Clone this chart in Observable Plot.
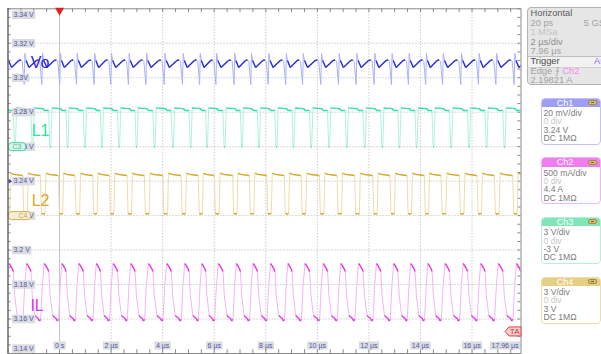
<!DOCTYPE html>
<html><head><meta charset="utf-8">
<script src="https://cdn.jsdelivr.net/npm/d3@7"></script>
<script src="https://cdn.jsdelivr.net/npm/@observablehq/plot@0.6"></script>
<style>
html,body{margin:0;padding:0;background:#fff;overflow:hidden;}
body{font-family:"Liberation Sans",Arial,sans-serif;}
#wrap{position:relative;width:601px;height:354px;overflow:hidden;}
#chart{position:absolute;left:0;top:0;}
.hbox{position:absolute;left:527px;top:6.5px;width:80px;height:78px;box-sizing:border-box;background:#e6e6e6;border:1px solid #b4b4b4;border-radius:4px;overflow:hidden;}
.hl{position:absolute;left:2.5px;font-size:9.3px;line-height:10px;white-space:nowrap;color:#a2a2a2;}
.hr{position:absolute;right:5px;font-size:9.3px;line-height:10px;white-space:nowrap;color:#a2a2a2;}
.ch{position:absolute;left:541px;width:60px;height:47px;box-sizing:border-box;background:#fff;border:1px solid;border-radius:4px;overflow:hidden;}
.chh{position:absolute;left:0;top:0;right:0;height:8.6px;color:#fff;font-size:9px;line-height:9px;text-align:center;padding-right:12px;}
.ico{position:absolute;right:3px;top:1.5px;width:9px;height:5px;background:#d8bd72;border:1px solid #a88c3c;border-radius:2px;box-sizing:border-box;}
.ico:after{content:"";position:absolute;left:2px;right:2px;top:1.2px;height:1px;background:#7a6428;}
.cl{position:absolute;left:1.5px;font-size:8.6px;line-height:8.4px;color:#7c7c7c;white-space:nowrap;}
</style></head>
<body><div id="wrap"><div id="chart"></div><div id="panel"></div></div>
<script>
// ---- axis definitions ----
const xDomain = [-2.0, 17.9];
const yDomain = [3.14, 3.34];
const xTickValues = [0, 2, 4, 6, 8, 10, 12, 14, 16];
const xTickLabels = ["0 s", "2 µs", "4 µs", "6 µs", "8 µs", "10 µs", "12 µs", "14 µs", "16 µs"];
const xEndLabel = "17.96 µs";
const yTickValues = [3.14, 3.16, 3.18, 3.2, 3.22, 3.24, 3.26, 3.28, 3.3, 3.32, 3.34];
const yTickLabels = ["3.14 V", "3.16 V", "3.18 V", "3.2 V", "3.22 V", "3.24 V", "3.26 V", "3.28 V", "3.3V", "3.32 V", "3.34 V"];

// ---- switching cycle start times (µs) ----
const cycleStarts = [-2.128, -1.449, -0.766, -0.068, 0.580, 1.266, 1.910, 2.597, 3.268, 3.982,
  4.692, 5.362, 5.983, 6.697, 7.341, 8.016, 8.698, 9.346, 10.056, 10.743,
  11.426, 12.127, 12.798, 13.458, 14.129, 14.777, 15.487, 16.173, 16.844, 17.558, 18.229];

// ---- one cycle of each trace: [phase within cycle, volts, slow(dark) segment follows] ----
const voShape = [
  [0.000, 3.3096, 0], [0.114, 3.2961, 0], [0.154, 3.3141, 0], [0.220, 3.3100, 1],
  [0.390, 3.3059, 1], [0.800, 3.3100, 1], [0.920, 3.3103, 0]
];
const l1Shape = [
  [0.000, 3.2822, 1], [0.200, 3.2820, 1], [0.240, 3.2810, 1], [0.490, 3.2810, 0],
  [0.560, 3.2598, 1], [0.610, 3.2598, 0], [0.680, 3.2827, 1], [0.720, 3.2824, 1]
];
const l2Shape = [
  [0.000, 3.2433, 1], [0.030, 3.2433, 0], [0.090, 3.2211, 1], [0.290, 3.2211, 0],
  [0.345, 3.2447, 1], [0.380, 3.2445, 1], [0.520, 3.2439, 1]
];
const ilShape = [
  [0.000, 3.1592, 1], [0.046, 3.1597, 0], [0.143, 3.1795, 0], [0.246, 3.1922, 1],
  [0.314, 3.1913, 1], [0.429, 3.1893, 1], [0.497, 3.1876, 0], [0.571, 3.1737, 0],
  [0.714, 3.1620, 1], [0.800, 3.1612, 1], [0.914, 3.1603, 1], [0.971, 3.1589, 1]
];

// ---- channel names / label positions ----
const channelNames = ["Vo", "L1", "L2", "IL"];
const channelLabelT = [-1.12, -1.08, -1.08, -1.13];
const channelLabelV = [3.3088, 3.2694, 3.2285, 3.1678];
const darkColors = ["#2a2ae4", "#2ee0a2", "#d8a82a", "#e236e2"];
const lightColors = ["#aab2f8", "#b2f2da", "#f0dcaa", "#f8b2f8"];

// ---- markers ----
const triggerTime = 0;
const triggerLevelV = 3.1528;
const ch3RefV = 3.26, ch4RefV = 3.22, ch1RefV = 3.24;

function build(shape) {
  const pts = [];
  for (let k = 0; k < cycleStarts.length - 1; k++) {
    const t0 = cycleStarts[k], t1 = cycleStarts[k + 1];
    for (const [p, v, d] of shape) pts.push({t: t0 + p * (t1 - t0), v, dark: d});
  }
  pts.push({t: cycleStarts[cycleStarts.length - 1], v: shape[0][1], dark: 0});
  return pts;
}
function segs(pts) {
  const out = [];
  for (let i = 0; i < pts.length - 1; i++) if (pts[i].dark) out.push({x1: pts[i].t, y1: pts[i].v, x2: pts[i + 1].t, y2: pts[i + 1].v});
  return out;
}
const traces = [voShape, l1Shape, l2Shape, ilShape].map(build);

const mctx = document.createElement("canvas").getContext("2d");
mctx.font = "7px 'Liberation Sans'";
const tw = s => mctx.measureText(s).width;

function rectSym(w, h, anchor, rx = 0) {
  return {draw(ctx) {
    const x0 = anchor === "start" ? 0 : anchor === "end" ? -w : -w / 2;
    if (!rx) { ctx.rect(x0, -h / 2, w, h); return; }
    const y0 = -h / 2, x1 = x0 + w, y1 = h / 2;
    ctx.moveTo(x0 + rx, y0); ctx.lineTo(x1 - rx, y0); ctx.quadraticCurveTo(x1, y0, x1, y0 + rx);
    ctx.lineTo(x1, y1 - rx); ctx.quadraticCurveTo(x1, y1, x1 - rx, y1); ctx.lineTo(x0 + rx, y1);
    ctx.quadraticCurveTo(x0, y1, x0, y1 - rx); ctx.lineTo(x0, y0 + rx); ctx.quadraticCurveTo(x0, y0, x0 + rx, y0); ctx.closePath();
  }};
}
const trigSym = {draw(ctx) { ctx.moveTo(-4.5, -1); ctx.lineTo(4.5, -1); ctx.lineTo(0, 7); ctx.closePath(); }};
const taSym = {draw(ctx) { ctx.moveTo(-16, 0); ctx.lineTo(-12, -4.5); ctx.lineTo(0, -4.5); ctx.lineTo(0, 4.5); ctx.lineTo(-12, 4.5); ctx.closePath(); }};
const refSym = {draw(ctx) { ctx.moveTo(0, -2.5); ctx.lineTo(3.5, 0); ctx.lineTo(0, 2.5); ctx.closePath(); }};

const labelBg = "#dcdce0", labelFg = "#4c5aa8";
const marks = [];
// grid
marks.push(Plot.ruleX(xTickValues.filter(d => d !== 0), {stroke: "#b4b4b4", strokeDasharray: "1,2", strokeWidth: 1}));
marks.push(Plot.ruleX([0], {stroke: "#c4c4c4", strokeWidth: 1}));
marks.push(Plot.ruleY(yTickValues.slice(1, -1), {stroke: "#b4b4b4", strokeDasharray: "1,2", strokeWidth: 1}));
// minor ticks along the borders
const minorX = d3.range(xDomain[0], xDomain[1], 0.5);
const minorY = d3.range(yDomain[0], yDomain[1] + 1e-9, 0.005);
marks.push(Plot.ruleX(minorX, {y1: yDomain[0], y2: yDomain[0] + 0.0022, stroke: "#888"}));
marks.push(Plot.ruleX(minorX, {y1: yDomain[1], y2: yDomain[1] - 0.0022, stroke: "#888"}));
marks.push(Plot.ruleY(minorY, {x1: xDomain[0], x2: xDomain[0] + 0.12, stroke: "#888"}));
marks.push(Plot.ruleY(minorY, {x1: xDomain[1], x2: xDomain[1] - 0.12, stroke: "#888"}));
// traces
traces.forEach((pts, i) => {
  marks.push(Plot.line(pts, {x: "t", y: "v", stroke: lightColors[i], strokeWidth: 1, clip: true}));
});
traces.forEach((pts, i) => {
  marks.push(Plot.link(segs(pts), {x1: "x1", y1: "y1", x2: "x2", y2: "y2", stroke: darkColors[i], strokeWidth: 1.4, clip: true}));
});
// channel labels
channelNames.forEach((n, i) => {
  marks.push(Plot.text([n], {x: () => channelLabelT[i], y: () => channelLabelV[i], text: d => d, fill: darkColors[i], fontSize: 16, textAnchor: "start", fontFamily: "Liberation Sans"}));
});
// y axis labels
yTickValues.forEach((v, i) => {
  const s = yTickLabels[i];
  const dy = i === yTickValues.length - 1 ? 6 : i === 0 ? -5 : 0;
  marks.push(Plot.dot([v], {x: () => xDomain[0], y: d => d, symbol: rectSym(tw(s) + 3, 8.5, "start"), fill: labelBg, stroke: "none", dx: 4, dy}));
  marks.push(Plot.text([v], {x: () => xDomain[0], y: d => d, text: () => s, fill: labelFg, fontSize: 7, textAnchor: "start", dx: 5.5, dy, fontFamily: "Liberation Sans"}));
});
// x axis labels
xTickValues.forEach((t, i) => {
  const s = xTickLabels[i];
  marks.push(Plot.dot([t], {x: d => d, y: () => yDomain[0], symbol: rectSym(tw(s) + 3, 8, "middle"), fill: labelBg, stroke: "none", dy: -8}));
  marks.push(Plot.text([t], {x: d => d, y: () => yDomain[0], text: () => s, fill: labelFg, fontSize: 7, dy: -8, fontFamily: "Liberation Sans"}));
});
marks.push(Plot.dot([xDomain[1]], {x: d => d, y: () => yDomain[0], symbol: rectSym(tw(xEndLabel) + 3, 8, "end"), fill: labelBg, stroke: "none", dy: -8, dx: -1}));
marks.push(Plot.text([xDomain[1]], {x: d => d, y: () => yDomain[0], text: () => xEndLabel, fill: labelFg, fontSize: 7, textAnchor: "end", dy: -8, dx: -2.5, fontFamily: "Liberation Sans"}));
// channel reference tags
marks.push(Plot.dot([ch3RefV], {x: () => xDomain[0], y: d => d, symbol: rectSym(17, 8, "start", 3), fill: "#d6f6ea", stroke: "#3cd89c", strokeWidth: 1, dx: 0.5}));
marks.push(Plot.text([ch3RefV], {x: () => xDomain[0], y: d => d, text: () => "C3", fill: "#5ab896", fontSize: 7, dx: 9}));
marks.push(Plot.dot([ch4RefV], {x: () => xDomain[0], y: d => d, symbol: rectSym(22, 8, "start", 3), fill: "#f6eed6", stroke: "#d2ae52", strokeWidth: 1, dx: 0.5}));
marks.push(Plot.text([ch4RefV], {x: () => xDomain[0], y: d => d, text: () => "C4", fill: "#c8a650", fontSize: 7, dx: 15}));
marks.push(Plot.dot([ch1RefV], {x: () => xDomain[0], y: d => d, symbol: refSym, fill: "#3a3ae0", stroke: "none", dx: 0.5}));
// frame
marks.push(Plot.frame({stroke: "#8a8a8a"}));
marks.push(Plot.ruleX([xDomain[0]], {stroke: "#5a5a5a"}));
// trigger markers
marks.push(Plot.dot([triggerTime], {x: d => d, y: () => yDomain[1], symbol: trigSym, fill: "#e4201c", stroke: "none"}));
marks.push(Plot.dot([triggerLevelV], {x: () => xDomain[1], y: d => d, symbol: taSym, fill: "#f8cfcf", stroke: "#e04040", strokeWidth: 1, dx: 0}));
marks.push(Plot.text([triggerLevelV], {x: () => xDomain[1], y: d => d, text: () => "TA", fill: "#e03030", fontSize: 8, textAnchor: "end", dx: -1.5}));

const chart = Plot.plot({
  width: 601, height: 354,
  marginLeft: 7.5, marginRight: 80.5, marginTop: 8.3, marginBottom: 1,
  x: {domain: xDomain, axis: null},
  y: {domain: yDomain, axis: null},
  style: {background: "transparent", fontFamily: "Liberation Sans"},
  marks
});
document.getElementById("chart").appendChild(chart);

// ---- right-hand info panel ----
const panel = document.getElementById("panel");
panel.innerHTML = `
<div class="hbox">
  <div class="hl" style="top:0px;color:#5c5c5c">Horizontal</div>
  <div class="hl" style="top:10px">20 ps</div><div class="hr" style="top:10px;right:-4px">5 GSa</div>
  <div class="hl" style="top:19.5px;color:#c4c4c4">1 MSa</div><div class="hr" style="top:19.5px;right:0px;color:#8a8a8a">I</div>
  <div class="hl" style="top:29px;color:#8e8e8e">2 µs/div</div>
  <div class="hl" style="top:38.5px">7.96 µs</div>
  <div style="position:absolute;left:0;right:0;top:48px;height:10px;background:#f2f2f2;border-top:1px solid #c0c0c0;border-bottom:1px solid #d0d0d0"></div>
  <div class="hl" style="top:48.5px;color:#4a4a4a">Trigger</div><div class="hr" style="top:48.5px;right:-2px;color:#7a7ae6">Aut</div>
  <div class="hl" style="top:58.5px">Edge ⨍ <span style="color:#f28af0">Ch2</span></div>
  <div class="hl" style="top:67.5px">2.19821 A</div>
</div>`;
const chBoxes = [
  {top: 97.5, head: "#9e9ef4", border: "#c2c2f8", name: "Ch1", lines: ["20 mV/div", "0 div", "3.24 V", "DC 1MΩ"]},
  {top: 157, head: "#f07ef0", border: "#f2b6f2", name: "Ch2", lines: ["500 mA/div", "0 div", "4.4 A", "DC 1MΩ"]},
  {top: 216.7, head: "#80e6b8", border: "#b6f0d8", name: "Ch3", lines: ["3 V/div", "0 div", "-3 V", "DC 1MΩ"]},
  {top: 276.5, head: "#e6ce84", border: "#eedcaa", name: "Ch4", lines: ["3 V/div", "0 div", "3 V", "DC 1MΩ"]}
];
chBoxes.forEach(b => {
  const d = document.createElement("div");
  d.className = "ch";
  d.style.top = b.top + "px";
  d.style.borderColor = b.border;
  d.innerHTML = `<div class="chh" style="background:${b.head}">${b.name}<span class="ico"></span></div>` +
    b.lines.map((l, i) => `<div class="cl" style="top:${10.6 + i * 8.35}px;${i === 1 ? "color:#c8c8c8" : ""}">${l}</div>`).join("");
  panel.appendChild(d);
});
</script>
</body></html>
